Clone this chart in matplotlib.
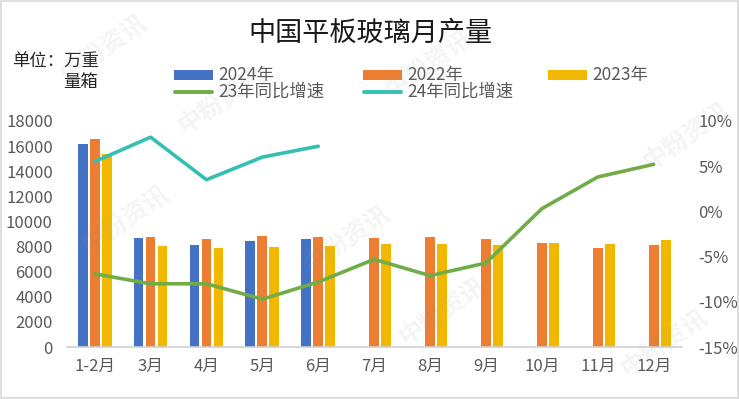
import matplotlib
matplotlib.use("Agg")
import matplotlib.pyplot as plt
import numpy as np
from matplotlib.patches import Rectangle
from matplotlib.lines import Line2D
from matplotlib.ticker import FuncFormatter

plt.rcParams['font.family'] = ['Noto Sans CJK SC', 'DejaVu Sans']

categories = ["1-2月", "3月", "4月", "5月", "6月", "7月", "8月", "9月", "10月", "11月", "12月"]
prod_2024 = [16200, 8650, 8100, 8420, 8580, np.nan, np.nan, np.nan, np.nan, np.nan, np.nan]
prod_2022 = [16540, 8760, 8580, 8820, 8760, 8660, 8740, 8580, 8260, 7860, 8100]
prod_2023 = [15400, 8020, 7860, 7940, 8020, 8180, 8180, 8100, 8260, 8180, 8500]
yoy_23 = [-6.9, -8.0, -8.0, -9.7, -7.8, -5.3, -7.1, -5.7, 0.3, 3.8, 5.2]
yoy_24 = [5.5, 8.2, 3.5, 6.0, 7.2, np.nan, np.nan, np.nan, np.nan, np.nan, np.nan]

title = "中国平板玻璃月产量"

c_blue = "#4472C4"
c_orange = "#ED7D31"
c_gold = "#F2B800"
c_green = "#70AD47"
c_teal = "#33C0B2"
gray = "#595959"

W, H = 739, 399
fig = plt.figure(figsize=(W / 100, H / 100), dpi=100)
fig.patch.set_facecolor("white")
fig.add_artist(Rectangle((0.002, 0.003), 0.996, 0.994, transform=fig.transFigure,
                         fill=False, edgecolor="#D9D9D9", linewidth=1.2))

ax = fig.add_axes([0.0903, 0.130, 0.832, 0.567])
x = np.arange(len(categories))
w = 0.175
step = 0.215
b1 = ax.bar(x - step, prod_2024, w, color=c_blue, label="2024年", zorder=2)
b2 = ax.bar(x, prod_2022, w, color=c_orange, label="2022年", zorder=2)
b3 = ax.bar(x + step, prod_2023, w, color=c_gold, label="2023年", zorder=2)
ax.set_xlim(-0.5, len(categories) - 0.5)
ax.set_ylim(0, 18000)
ax.set_yticks(np.arange(0, 18001, 2000))
ax.set_xticks(x)
ax.set_xticklabels(categories)
for s in ["top", "left", "right"]:
    ax.spines[s].set_visible(False)
ax.spines["bottom"].set_color("#D0D0D0")
ax.spines["bottom"].set_linewidth(1.2)
ax.tick_params(axis="y", length=0, pad=10, labelsize=12, labelcolor=gray)
ax.tick_params(axis="x", length=0, pad=8, labelsize=12, labelcolor=gray)

ax2 = ax.twinx()
l1, = ax2.plot(x, yoy_23, color=c_green, linewidth=2.6, label="23年同比增速", zorder=3,
               solid_capstyle="round")
l2, = ax2.plot(x, yoy_24, color=c_teal, linewidth=2.6, label="24年同比增速", zorder=3,
               solid_capstyle="round")
ax2.set_ylim(-15, 10)
ax2.set_yticks(np.arange(-15, 10.1, 5))
ax2.yaxis.set_major_formatter(FuncFormatter(lambda v, p: f"{v:.0f}%"))
for s in ["top", "left", "right", "bottom"]:
    ax2.spines[s].set_visible(False)
ax2.tick_params(axis="y", length=0, pad=12, labelsize=12, labelcolor=gray)

fig.text(370 / W, 1 - 33.5 / H, title, ha="center", va="center", fontsize=19.5,
         color="#1a1a1a", fontweight="light")
fig.text(12 / W, 1 - 62 / H, "单位：万重", ha="left", va="center", fontsize=12.5,
         color="#262626")
fig.text(63 / W, 1 - 82 / H, "量箱", ha="left", va="center", fontsize=12.5, color="#262626")

# legend (manual placement, labels taken from the plotted artists)
def fx(px):
    return px / W

def fy(py):
    return 1 - py / H

row1, row2 = 75, 92
for h, x0, kind, row in [(b1, 174, "patch", row1), (b2, 363, "patch", row1),
                         (b3, 548, "patch", row1), (l1, 174, "line", row2),
                         (l2, 363, "line", row2)]:
    if kind == "patch":
        col = h.patches[0].get_facecolor()
        fig.add_artist(Rectangle((fx(x0), fy(row + 5)), 39 / W, 10 / H,
                                 transform=fig.transFigure, facecolor=col, edgecolor="none"))
    else:
        fig.add_artist(Line2D([fx(x0 + 1), fx(x0 + 38)], [fy(row), fy(row)],
                              transform=fig.transFigure, color=h.get_color(),
                              linewidth=2.8, solid_capstyle="round"))
    fig.text(fx(x0 + 44), fy(row), h.get_label(), ha="left", va="center",
             fontsize=12.5, color=gray, fontweight="light")

# watermark
for (wx, wy) in [(0.14, 0.88), (0.30, 0.75), (0.17, 0.45), (0.58, 0.84), (0.47, 0.40),
                 (0.93, 0.66), (0.60, 0.22), (0.90, 0.14)]:
    fig.text(wx, wy, "中粉资讯", fontsize=18, color="#9a9a9a", alpha=0.10,
             rotation=35, ha="center", va="center", fontweight="bold")

fig.savefig("out.png", dpi=100, facecolor="white")
